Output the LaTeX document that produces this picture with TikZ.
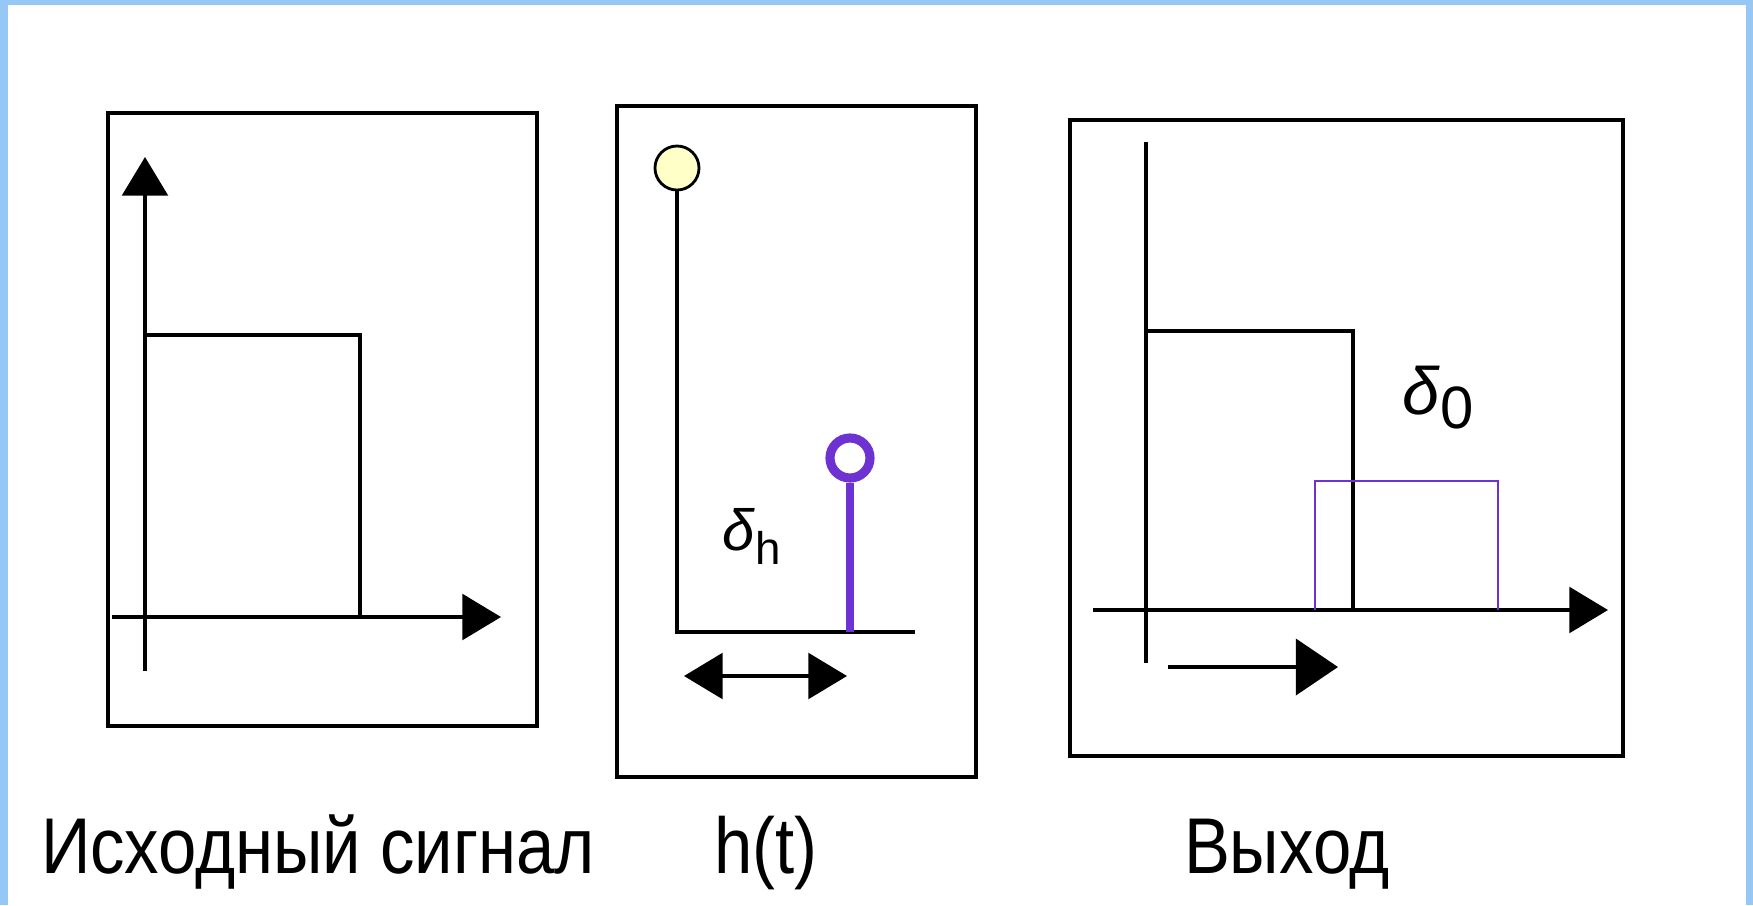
\documentclass[tikz,border=0pt]{standalone}
\usepackage{fontspec}
\setmainfont{Liberation Sans}
\usetikzlibrary{arrows.meta}
\definecolor{frameblue}{RGB}{150,200,245}
\definecolor{violet1}{RGB}{110,50,210}
\definecolor{paleyellow}{RGB}{255,255,200}
\tikzset{
  panel/.style={draw=black, line width=1.4pt},
  axis/.style={draw=black, line width=1.0pt},
  tri/.style={-{Triangle[length=11pt,width=13pt]}},
  lab/.style={font=\fontsize{22.5}{26}\selectfont, anchor=base, inner sep=0pt, xscale=0.87, transform shape},
  dlab/.style={font=\fontsize{19}{22}\selectfont, inner sep=0pt}
}
\begin{document}
\begin{tikzpicture}[x=0.01cm,y=-0.01cm]
\useasboundingbox (0,0) rectangle (1753,905);
% outer light-blue frame
\fill[frameblue] (0,0) rectangle (1753,5);
\fill[frameblue] (0,0) rectangle (8,905);
\fill[frameblue] (1746,0) rectangle (1753,905);

% ---------- Panel 1 ----------
\draw[panel] (108,113) rectangle (537,726);
\coordinate (p1yb) at (145,671);
\coordinate (p1yt) at (145,157);
\coordinate (p1xl) at (112,617);
\coordinate (p1xr) at (501,617);
\draw[axis, tri] (p1yb) -- (p1yt);
\draw[axis, tri] (p1xl) -- (p1xr);
\coordinate (p1a) at (145,335);
\coordinate (p1b) at (360,335);
\coordinate (p1c) at (360,617);
\draw[axis] (p1a) -- (p1b) -- (p1c);

% ---------- Panel 2 ----------
\draw[panel] (617,106) rectangle (976,777);
\node[circle, draw=black, fill=paleyellow, line width=0.8pt, minimum size=44*0.2845pt, inner sep=0pt] (yc) at (677,168) {};
\coordinate (p2c) at (677,632);
\coordinate (p2r) at (915,632);
\draw[axis] (yc.south) -- (p2c) -- (p2r);
\node[circle, draw=violet1, fill=white, line width=2.6pt, minimum size=40*0.2845pt, inner sep=0pt] (pc) at (850,458) {};
\coordinate (p2s) at (850,632);
\draw[violet1, line width=2.2pt] (pc.south) -- (p2s);
\node[dlab, font=\fontsize{16.5}{20}\selectfont] (dh) at (752,536) {\textit{δ}\raisebox{-4pt}{\fontsize{13}{16}\selectfont h}};
\coordinate (dal) at (684,676);
\coordinate (dar) at (847,676);
\draw[axis, {Triangle[length=11pt,width=13pt]}-{Triangle[length=11pt,width=13pt]}] (dal) -- (dar);

% ---------- Panel 3 ----------
\draw[panel] (1070,120) rectangle (1623,756);
\coordinate (p3yt) at (1146,142);
\coordinate (p3yb) at (1146,663);
\draw[axis] (p3yt) -- (p3yb);
\coordinate (p3xl) at (1093,610);
\coordinate (p3xr) at (1608,610);
\draw[axis, tri] (p3xl) -- (p3xr);
\coordinate (p3a) at (1146,331);
\coordinate (p3b) at (1353,331);
\coordinate (p3c) at (1353,610);
\draw[axis] (p3a) -- (p3b) -- (p3c);
\draw[violet1, line width=0.7pt] (1315,610) -- (1315,481) -- (1498,481) -- (1498,610);
\node[dlab] (d0) at (1438,398) {\textit{δ}\raisebox{-4pt}{\fontsize{17}{20}\selectfont 0}};
\coordinate (sal) at (1168,667);
\coordinate (sar) at (1338,667);
\draw[axis, -{Triangle[length=12pt,width=16pt]}] (sal) -- (sar);

% ---------- Captions ----------
\node[lab] (c1) at (318,873) {Исходный сигнал};
\node[lab] (c2) at (766,873) {h(t)};
\node[lab] (c3) at (1287,873) {Выход};
\end{tikzpicture}
\end{document}
